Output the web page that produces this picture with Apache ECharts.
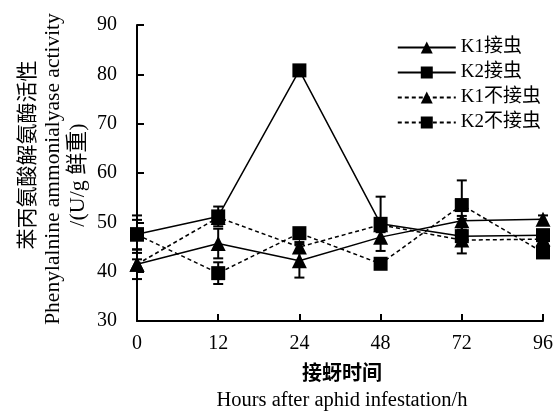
<!DOCTYPE html>
<html><head><meta charset="utf-8">
<script src="https://cdn.jsdelivr.net/npm/echarts@6/dist/echarts.min.js"></script>
<style>html,body{margin:0;padding:0;background:#fff}#c{width:560px;height:412px}</style>
</head><body><div id="c"></div>
<script>
const categories = ['0', '12', '24', '48', '72', '96'];
const yTicks = [30, 40, 50, 60, 70, 80, 90];
const seriesNames = ['K1接虫', 'K2接虫', 'K1不接虫', 'K2不接虫'];
const k1Infested = [41.5, 45.7, 42.2, 47.0, 50.3, 50.6];
const k2Infested = [47.6, 51.2, 80.8, 49.7, 47.2, 47.4];
const k1Control = [41.5, 51.0, 45.0, 49.5, 46.4, 46.6];
const k2Control = [47.5, 39.7, 47.8, 41.6, 53.5, 43.9];
const k1InfestedErr = [3.0, 3.0, 3.4, 1.0, 1.0, 0.8];
const k2InfestedErr = [3.8, 2.0, 0.5, 5.5, 3.5, 1.0];
const k1ControlErr = [1.0, 1.0, 1.0, 1.0, 1.0, 1.0];
const k2ControlErr = [3.0, 2.2, 0.8, 0.5, 5.0, 0.8];

const serif = 'Liberation Serif, Noto Sans CJK SC, serif';
const chart = echarts.init(document.getElementById('c'));

function errSeries(vals, errs) {
  return {
    type: 'custom', silent: true, z: 3,
    data: vals.map((v, i) => [i, v - errs[i], v + errs[i]]),
    renderItem: function (params, api) {
      const lo = api.coord([api.value(0), api.value(1)]);
      const hi = api.coord([api.value(0), api.value(2)]);
      const w = 5;
      const st = { stroke: '#000', lineWidth: 2 };
      return { type: 'group', children: [
        { type: 'line', shape: { x1: lo[0], y1: lo[1], x2: hi[0], y2: hi[1] }, style: st },
        { type: 'line', shape: { x1: lo[0] - w, y1: lo[1], x2: lo[0] + w, y2: lo[1] }, style: st },
        { type: 'line', shape: { x1: hi[0] - w, y1: hi[1], x2: hi[0] + w, y2: hi[1] }, style: st }
      ]};
    }
  };
}
function lineSeries(name, vals, symbol, dashed) {
  return {
    name: name, type: 'line', data: vals, symbol: symbol,
    symbolSize: symbol === 'triangle' ? 15 : 14, z: 4,
    itemStyle: { color: '#000' },
    lineStyle: { color: '#000', width: 1.5, type: dashed ? [4, 3] : 'solid' }
  };
}

chart.setOption({
  animation: false,
  backgroundColor: '#fff',
  grid: { left: 137, right: 17, top: 25, bottom: 91 },
  legend: {
    orient: 'vertical', right: 14, top: 33,
    itemWidth: 58, itemHeight: 15, itemGap: 6,
    textStyle: { fontFamily: serif, fontSize: 19, color: '#000' },
    data: seriesNames
  },
  xAxis: {
    type: 'category', data: categories, boundaryGap: false,
    axisLine: { lineStyle: { color: '#000', width: 2 } },
    axisTick: { inside: true, length: 7, lineStyle: { color: '#000', width: 2 } },
    axisLabel: { fontFamily: serif, fontSize: 20, color: '#000', margin: 13 },
    splitLine: { show: false }
  },
  yAxis: {
    type: 'value', min: yTicks[0], max: yTicks[yTicks.length - 1], interval: 10,
    axisLine: { show: true, lineStyle: { color: '#000', width: 2 } },
    axisTick: { show: true, inside: true, length: 7, lineStyle: { color: '#000', width: 2 } },
    axisLabel: { fontFamily: serif, fontSize: 20, color: '#000', margin: 20 },
    splitLine: { show: false }
  },
  graphic: [
    { type: 'text', x: 28, y: 155, rotation: Math.PI / 2,
      style: { text: '苯丙氨酸解氨酶活性', fontFamily: serif, fontSize: 21, fill: '#000', align: 'center', verticalAlign: 'middle' } },
    { type: 'text', x: 53, y: 169, rotation: Math.PI / 2,
      style: { text: 'Phenylalnine ammonialyase activity', fontFamily: serif, fontSize: 21.5, fill: '#000', align: 'center', verticalAlign: 'middle' } },
    { type: 'text', x: 78, y: 175, rotation: Math.PI / 2,
      style: { text: '/(U/g 鲜重)', fontFamily: serif, fontSize: 22, fill: '#000', align: 'center', verticalAlign: 'middle' } },
    { type: 'text', x: 342, y: 375,
      style: { text: '接蚜时间', fontFamily: serif, fontSize: 20, fontWeight: 'bold', fill: '#000', align: 'center', verticalAlign: 'middle' } },
    { type: 'text', x: 342, y: 401,
      style: { text: 'Hours after aphid infestation/h', fontFamily: serif, fontSize: 20.5, fill: '#000', align: 'center', verticalAlign: 'middle' } }
  ],
  series: [
    errSeries(k1Infested, k1InfestedErr),
    errSeries(k2Infested, k2InfestedErr),
    errSeries(k1Control, k1ControlErr),
    errSeries(k2Control, k2ControlErr),
    lineSeries(seriesNames[0], k1Infested, 'triangle', false),
    lineSeries(seriesNames[1], k2Infested, 'rect', false),
    lineSeries(seriesNames[2], k1Control, 'triangle', true),
    lineSeries(seriesNames[3], k2Control, 'rect', true)
  ]
});
</script></body></html>
